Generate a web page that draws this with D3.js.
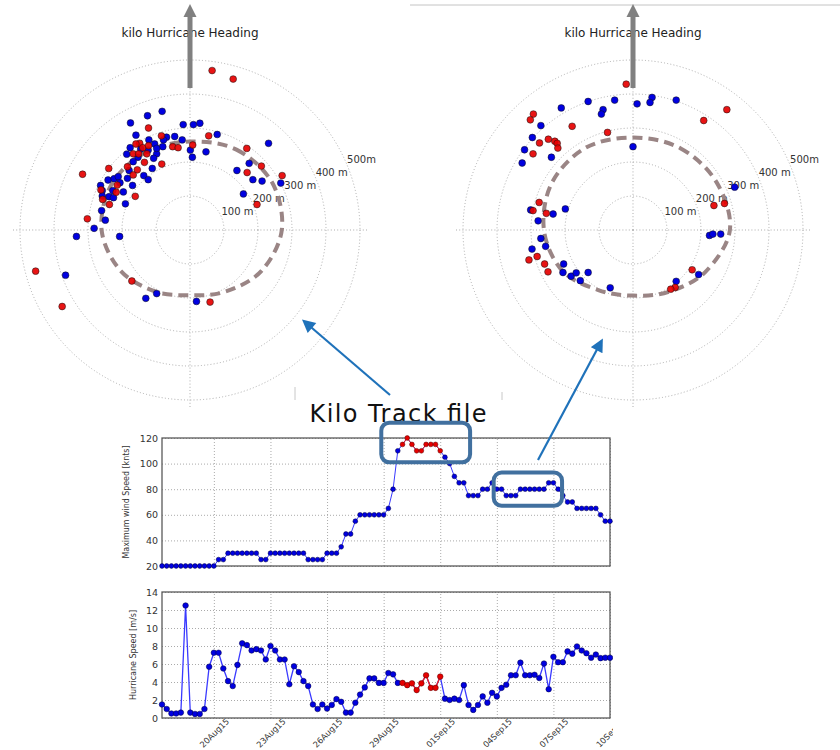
<!DOCTYPE html>
<html>
<head>
<meta charset="utf-8">
<script src="https://cdn.jsdelivr.net/npm/d3@7"></script>
<style>
  body { margin: 0; background: #fff; }
  svg { display: block; font-family: "DejaVu Sans", sans-serif; }
</style>
</head>
<body>
<svg id="fig" width="840" height="750"></svg>
<script>
// ---- Kilo best-track, 6-hourly fixes ----
const trackStart = "2015-08-17T06:00:00Z";
const stepHours = 6;

const windKnots = [
  20, 20, 20, 20, 20, 20, 20, 20, 20, 20, 20, 20,
  25, 25, 30, 30, 30, 30, 30, 30, 30, 25, 25,
  30, 30, 30, 30, 30, 30, 30, 30, 25, 25, 25, 25,
  30, 30, 30, 35, 45, 45, 55, 60, 60, 60, 60, 60, 60,
  65, 80, 110, 115, 120, 115, 110, 110, 115, 115, 115, 110,
  105, 100, 90, 85, 85, 75, 75, 75, 80, 80, 85, 80, 80,
  75, 75, 75, 80, 80, 80, 80, 80, 80, 85, 85, 80, 75,
  70, 70, 65, 65, 65, 65, 65, 60, 55, 55
];

const speedMs = [
  1.5, 1.0, 0.5, 0.5, 0.6, 12.5, 0.6, 0.45, 0.45, 1.0, 5.7, 7.25,
  7.25, 5.5, 4.1, 3.55, 5.9, 8.3, 8.1, 7.5, 7.65, 7.5, 6.5, 8.0,
  7.5, 6.5, 6.5, 3.75, 5.75, 5.1, 4.1, 3.55, 1.5, 1.0, 1.5, 1.05,
  1.45, 2.1, 1.8, 0.6, 0.6, 1.7, 2.6, 3.4, 4.4, 4.4, 3.9, 3.9,
  5.0, 4.85, 3.9, 3.9, 3.65, 3.85, 3.1, 3.85, 4.75, 3.35, 3.35, 4.6,
  2.15, 2.0, 2.15, 2.0, 3.65, 1.45, 0.9, 1.45, 2.4, 1.7, 2.8, 2.4,
  3.35, 3.7, 4.75, 4.75, 6.15, 4.75, 4.75, 4.8, 4.45, 6.05, 3.2, 6.8,
  6.2, 6.2, 7.4, 7.15, 7.95, 7.5, 7.2, 6.7, 7.05, 6.65, 6.7, 6.7
];

// fixes flown at peak intensity
const peakWindow = ["2015-08-30T00:00:00Z", "2015-09-01T00:00:00Z"];

const dateTicks = ["20Aug15", "23Aug15", "26Aug15", "29Aug15", "01Sep15", "04Sep15", "07Sep15", "10Sep15"];
const windTicks = [20, 40, 60, 80, 100, 120];
const speedTicks = [0, 2, 4, 6, 8, 10, 12, 14];

// highlighted periods on the wind trace: [start, end], [low knots, high knots]
const peakBoxTime = ["2015-08-28T21:00:00Z", "2015-09-02T14:00:00Z"];
const peakBoxKnots = [101, 132];
const laterBoxTime = ["2015-09-03T20:00:00Z", "2015-09-07T11:00:00Z"];
const laterBoxKnots = [67, 93];

// ---- storm-relative positions, metres [right of track, along heading] ----
const rangeRings = [100, 200, 300, 400, 500];
const ringLabels = ["100 m", "200 m", "300 m", "400 m", "500m"];

const rmwBearings = [0, 30, 60, 90, 120, 150, 180, 210, 240, 270, 300, 330];
const peakRmw  = [260, 273, 279, 270, 242, 209, 192, 208, 237, 260, 267, 263];
const laterRmw = [272, 278, 283, 285, 246, 210, 193, 204, 240, 262, 276, 279];

const peakBlue = [
  [-82, 349], [-125, 336], [-175, 315], [-20, 310], [10, 310], [29, 314], [-159, 279], [80, 281],
  [-121, 265], [-69, 273], [-45, 275], [-23, 265], [-78, 265], [-104, 253], [-176, 242], [-145, 238],
  [-80, 245], [231, 255], [1, 235], [47, 230], [-186, 223], [-153, 214], [-98, 224], [-107, 211],
  [7, 214], [-167, 201], [-111, 181], [174, 196], [138, 175], [-179, 175], [-241, 147], [-223, 151],
  [-211, 157], [-136, 160], [-123, 148], [-184, 152], [185, 148], [212, 144], [267, 138], [-263, 131],
  [-206, 139], [-169, 131], [-258, 116], [-227, 116], [-196, 112], [-238, 98], [-225, 95], [-190, 77],
  [-258, 100], [157, 106], [-260, 57], [-249, 29], [-282, 5], [-334, -19], [-207, -19], [-366, -133],
  [-98, -187], [-130, -201], [19, -210], [-98, 240], [-123, 235]
];
const peakRed = [
  [65, 469], [127, 444], [-122, 300], [-84, 277], [55, 277], [-148, 255], [-159, 253], [-139, 242],
  [-122, 248], [-51, 245], [-35, 242], [8, 250], [167, 240], [-167, 224], [-151, 224], [-127, 224],
  [-134, 199], [-83, 194], [210, 188], [-239, 181], [-184, 186], [-155, 177], [-316, 164], [168, 169],
  [271, 160], [-167, 162], [-214, 132], [-262, 118], [-217, 111], [-161, 99], [-257, 90], [-237, 75],
  [197, 75], [-302, 33], [-454, -121], [-376, -225], [-171, -150], [59, -212]
];
const laterBlue = [
  [56, 390], [50, 375], [12, 371], [-54, 382], [-132, 378], [-211, 359], [-88, 354], [-93, 341],
  [127, 382], [-271, 307], [-296, 272], [-319, 236], [-326, 197], [-240, 214], [0, 245], [299, 126],
  [-301, 59], [-235, 47], [-199, 62], [-279, 27], [225, -16], [235, -12], [258, -12], [-271, -25],
  [-297, -56], [-257, -48], [-204, -100], [-206, -125], [-182, -136], [-167, -126], [-155, -149],
  [-132, -125], [-67, -170], [127, -151], [193, -131]
];
const laterRed = [
  [-20, 429], [276, 354], [208, 322], [-293, 341], [-302, 324], [-179, 305], [-75, 287], [-249, 267],
  [-230, 261], [-223, 255], [-221, 241], [-275, 256], [-294, 224], [-276, 81], [-294, 57], [-255, 49],
  [238, 72], [269, 78], [-306, -88], [-282, -78], [-260, -100], [-250, -123], [174, -117], [124, -169],
  [111, -174]
];

// ---------------------------------------------------------------
const svg = d3.select("#fig");
const FONT = "DejaVu Sans, sans-serif";
const BLUE = "#0000e0", RED = "#e60000";

const defs = svg.append("defs");
defs.append("clipPath").attr("id", "chartCrop")
  .append("rect").attr("x", 0).attr("y", 380).attr("width", 613).attr("height", 370);
defs.append("marker")
  .attr("id", "calloutHead").attr("viewBox", "0 0 10 10")
  .attr("refX", 7).attr("refY", 5)
  .attr("markerWidth", 7).attr("markerHeight", 6)
  .attr("orient", "auto")
  .append("path").attr("d", "M0,0 L10,5 L0,10 z").attr("fill", "#1f72ba");

// thin panel edges
svg.append("line").attr("x1", 410).attr("x2", 840).attr("y1", 5).attr("y2", 5)
  .attr("stroke", "#c4c4c4").attr("stroke-width", 1);
svg.append("line").attr("x1", 295).attr("x2", 295).attr("y1", 387).attr("y2", 400)
  .attr("stroke", "#c8c8c8").attr("stroke-width", 1);
svg.append("line").attr("x1", 502).attr("x2", 502).attr("y1", 392).attr("y2", 400)
  .attr("stroke", "#c8c8c8").attr("stroke-width", 1);

// ---------------- polar plots ----------------
const rPix = d3.scaleLinear().domain([0, 500]).range([0, 170]);
const spokeLen = 525;

function polarPanel(cx, cy, blue, red, rmw) {
  const g = svg.append("g").attr("transform", `translate(${cx},${cy})`);

  g.selectAll("circle.ring").data(rangeRings).join("circle")
    .attr("class", "ring").attr("r", d => rPix(d))
    .attr("fill", "none").attr("stroke", "#a4a4a4")
    .attr("stroke-width", 0.9).attr("stroke-dasharray", "1,2.2");

  g.selectAll("line.spoke").data([0, 90, 180, 270]).join("line")
    .attr("class", "spoke")
    .attr("x1", 0).attr("y1", 0)
    .attr("x2", d => rPix(spokeLen) * Math.sin(d * Math.PI / 180))
    .attr("y2", d => -rPix(spokeLen) * Math.cos(d * Math.PI / 180))
    .attr("stroke", "#a4a4a4").attr("stroke-width", 0.9).attr("stroke-dasharray", "1,2.2");

  const labAng = 67.5 * Math.PI / 180; // bearing of the range labels
  g.selectAll("text.rlab").data(rangeRings).join("text")
    .attr("class", "rlab")
    .attr("x", d => rPix(d) * Math.sin(labAng))
    .attr("y", d => -rPix(d) * Math.cos(labAng) - 2)
    .attr("font-family", FONT).attr("font-size", 10).attr("fill", "#333")
    .text((d, i) => ringLabels[i]);

  const radial = d3.lineRadial()
    .angle(d => d[0] * Math.PI / 180)
    .radius(d => rPix(d[1]))
    .curve(d3.curveCardinalClosed);
  g.append("path")
    .attr("d", radial(rmwBearings.map((b, i) => [b, rmw[i]])))
    .attr("fill", "none").attr("stroke", "#9a8585")
    .attr("stroke-width", 4).attr("stroke-dasharray", "10,6");

  g.selectAll("circle.b").data(blue).join("circle")
    .attr("class", "b")
    .attr("cx", d => rPix(d[0])).attr("cy", d => -rPix(d[1])).attr("r", 3.4)
    .attr("fill", BLUE).attr("stroke", "#111").attr("stroke-width", 0.5);
  g.selectAll("circle.r").data(red).join("circle")
    .attr("class", "r")
    .attr("cx", d => rPix(d[0])).attr("cy", d => -rPix(d[1])).attr("r", 3.4)
    .attr("fill", RED).attr("fill-opacity", 0.92).attr("stroke", "#111").attr("stroke-width", 0.5);

  g.append("text").attr("x", 0).attr("y", -193)
    .attr("text-anchor", "middle").attr("font-family", FONT).attr("font-size", 12)
    .attr("fill", "#222").text("kilo Hurricane Heading");

  // heading arrow
  g.append("rect").attr("x", -2.5).attr("y", -213).attr("width", 5).attr("height", 71)
    .attr("fill", "#808080");
  g.append("path").attr("d", "M-6.5,-213 L6.5,-213 L0,-226 Z").attr("fill", "#808080");
}

polarPanel(190, 230, peakBlue, peakRed, peakRmw);
polarPanel(633, 230, laterBlue, laterRed, laterRmw);

// ---------------- time series ----------------
const isoParse = d3.utcParse("%Y-%m-%dT%H:%M:%SZ");
const t0 = isoParse(trackStart);
const times = windKnots.map((_, i) => d3.utcHour.offset(t0, i * stepHours));
const tickTimes = dateTicks.map(d3.utcParse("%d%b%y"));
const x = d3.scaleUtc().domain([t0, tickTimes[tickTimes.length - 1]]).range([162, 610]);
const pStart = isoParse(peakWindow[0]), pEnd = isoParse(peakWindow[1]);
const isPeak = i => times[i] >= pStart && times[i] <= pEnd;

function seriesPanel(values, y, ticks, yTitle, titleX, titleLen, withDates, dotR, lineW) {
  const [top, bottom] = [y.range()[1], y.range()[0]];
  const [left, right] = x.range();
  const g = svg.append("g").attr("clip-path", "url(#chartCrop)");

  const ya = g.append("g").attr("transform", `translate(${left},0)`)
    .call(d3.axisLeft(y).tickValues(ticks).tickSize(-(right - left)).tickPadding(4));
  ya.select(".domain").remove();
  ya.selectAll(".tick line").attr("stroke", "#a0a0a0").attr("stroke-width", 0.9).attr("stroke-dasharray", "1,2");
  ya.selectAll(".tick text").attr("font-family", FONT).attr("font-size", 9.5).attr("fill", "#333");

  const xa = g.append("g").attr("transform", `translate(0,${bottom})`)
    .call(d3.axisBottom(x).tickValues(tickTimes).tickSize(-(bottom - top))
      .tickFormat((d, i) => withDates ? dateTicks[i] : ""));
  xa.select(".domain").remove();
  xa.selectAll(".tick line").attr("stroke", "#a0a0a0").attr("stroke-width", 0.9).attr("stroke-dasharray", "1,2");
  xa.selectAll(".tick text")
    .attr("font-family", FONT).attr("font-size", 8.3).attr("fill", "#333")
    .attr("y", 0).attr("dy", 0).attr("text-anchor", "middle")
    .attr("dominant-baseline", "central")
    .attr("transform", "translate(0,15) rotate(-45)");

  g.append("rect").attr("x", left).attr("y", top)
    .attr("width", right - left).attr("height", bottom - top)
    .attr("fill", "none").attr("stroke", "#5a5a5a").attr("stroke-width", 1.3);

  g.append("text")
    .attr("transform", `translate(${titleX},${(top + bottom) / 2}) rotate(-90)`)
    .attr("text-anchor", "middle").attr("dominant-baseline", "central")
    .attr("font-family", FONT).attr("font-size", 8.5).attr("fill", "#333")
    .attr("textLength", titleLen).attr("lengthAdjust", "spacingAndGlyphs")
    .text(yTitle);

  const line = d3.line().x((d, i) => x(times[i])).y(d => y(d));
  g.append("path").attr("d", line(values))
    .attr("fill", "none").attr("stroke", "#3a3aff").attr("stroke-width", lineW);
  const peakLine = d3.line()
    .defined((d, i) => isPeak(i))
    .x((d, i) => x(times[i])).y(d => y(d));
  g.append("path").attr("d", peakLine(values))
    .attr("fill", "none").attr("stroke", "#ee2020").attr("stroke-width", lineW);

  g.selectAll("circle.pt").data(values).join("circle")
    .attr("class", "pt")
    .attr("cx", (d, i) => x(times[i])).attr("cy", d => y(d)).attr("r", dotR)
    .attr("fill", (d, i) => isPeak(i) ? RED : BLUE)
    .attr("stroke", (d, i) => isPeak(i) ? "#500" : "#000040").attr("stroke-width", 0.5);
  return g;
}

const yWind = d3.scaleLinear().domain([20, 120]).range([566, 438]);
const ySpeed = d3.scaleLinear().domain([0, 14]).range([718, 592]);

seriesPanel(windKnots, yWind, windTicks, "Maximum wind Speed [knts]", 126, 113, false, 2.4, 1);
seriesPanel(speedMs, ySpeed, speedTicks, "Hurricane Speed [m/s]", 133, 90, true, 2.8, 1.3);

// figure title
svg.append("text").attr("x", 398).attr("y", 422)
  .attr("text-anchor", "middle").attr("font-family", FONT).attr("font-size", 24)
  .attr("fill", "#111").attr("textLength", 177).attr("lengthAdjust", "spacing")
  .text("Kilo Track file");

// highlight boxes on the wind trace
function highlight(tr, kn) {
  const x0 = x(isoParse(tr[0])), x1 = x(isoParse(tr[1]));
  const y0 = yWind(kn[1]), y1 = yWind(kn[0]);
  svg.append("rect").attr("x", x0).attr("y", y0)
    .attr("width", x1 - x0).attr("height", y1 - y0).attr("rx", 8)
    .attr("fill", "none").attr("stroke", "#41709f").attr("stroke-width", 4);
}
highlight(peakBoxTime, peakBoxKnots);
highlight(laterBoxTime, laterBoxKnots);

// call-out arrows to the polar plots
svg.append("line").attr("x1", 390).attr("y1", 395).attr("x2", 305).attr("y2", 322)
  .attr("stroke", "#1f72ba").attr("stroke-width", 2.2).attr("marker-end", "url(#calloutHead)");
svg.append("line").attr("x1", 538).attr("y1", 460).attr("x2", 601).attr("y2", 342)
  .attr("stroke", "#1f72ba").attr("stroke-width", 2.2).attr("marker-end", "url(#calloutHead)");
</script>
</body>
</html>
